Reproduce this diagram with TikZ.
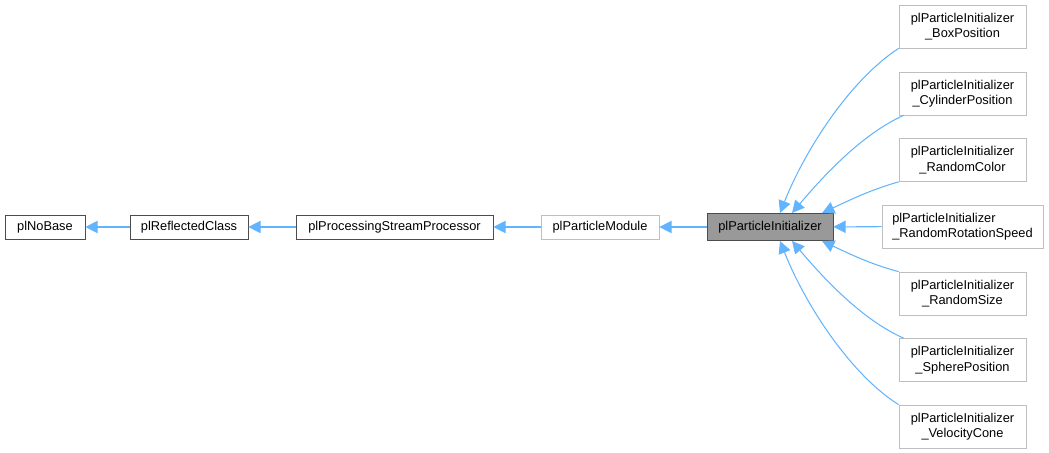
\documentclass[tikz,border=0pt]{standalone}
\usepackage{fontspec}
\setmainfont{Liberation Sans}
\usetikzlibrary{arrows.meta}
\begin{document}
\begin{tikzpicture}[x=0.02cm,y=-0.02cm,
  box/.style={draw=black!70,fill=white,inner sep=0pt,minimum height=0.48cm,font=\fontsize{7.3}{8.8}\selectfont},
  cbox/.style={draw=black!25,fill=white,inner sep=0pt,minimum width=2.54cm,minimum height=0.86cm,align=center,font=\fontsize{7.3}{8.8}\selectfont},
  inh/.style={draw={rgb,255:red,99;green,180;blue,255},line width=0.6pt,-{Triangle[open,fill={rgb,255:red,99;green,180;blue,255},length=7pt,width=7pt]}}]
\useasboundingbox (0,0) rectangle (1049,453);
\node[box,minimum width=1.6cm] (nb) at (45,227) {plNoBase};
\node[box,minimum width=2.36cm] (rc) at (189,227) {plReflectedClass};
\node[box,minimum width=3.94cm] (ps) at (394.5,227) {plProcessingStreamProcessor};
\node[box,draw=black!25,minimum width=2.36cm] (pm) at (600,227) {plParticleModule};
\node[box,fill=black!40,minimum width=2.52cm,minimum height=0.54cm] (pi) at (770,227) {plParticleInitializer};
\node[cbox] (b1) at (962.5,26.5) {plParticleInitializer\\\_BoxPosition};
\node[cbox] (b2) at (962.5,93.5) {plParticleInitializer\\\_CylinderPosition};
\node[cbox] (b3) at (962.5,160) {plParticleInitializer\\\_RandomColor};
\node[cbox,minimum width=3.22cm,align=left] (b4) at (962.5,226.5) {plParticleInitializer\\\_RandomRotationSpeed};
\node[cbox] (b5) at (962.5,293.5) {plParticleInitializer\\\_RandomSize};
\node[cbox] (b6) at (962.5,360) {plParticleInitializer\\\_SpherePosition};
\node[cbox] (b7) at (962.5,426.5) {plParticleInitializer\\\_VelocityCone};
\draw[inh] (rc) -- (nb);
\draw[inh] (ps) -- (rc);
\draw[inh] (pm) -- (ps);
\draw[inh] (pi) -- (pm);
\draw[inh] (b4) -- (pi);
\draw[inh] (b1.south west) .. controls (850,80) and (805,150) .. (780,213);
\draw[inh] ([xshift=0.1cm]b2.south west) .. controls (860,135) and (820,180) .. (792,213);
\draw[inh] (b3.south west) .. controls (870,190) and (850,200) .. (822,213);
\draw[inh] (b5.north west) .. controls (870,264) and (850,254) .. (822,241);
\draw[inh] ([xshift=0.1cm]b6.north west) .. controls (860,319) and (820,274) .. (792,241);
\draw[inh] (b7.north west) .. controls (850,374) and (805,304) .. (780,241);
\end{tikzpicture}
\end{document}
